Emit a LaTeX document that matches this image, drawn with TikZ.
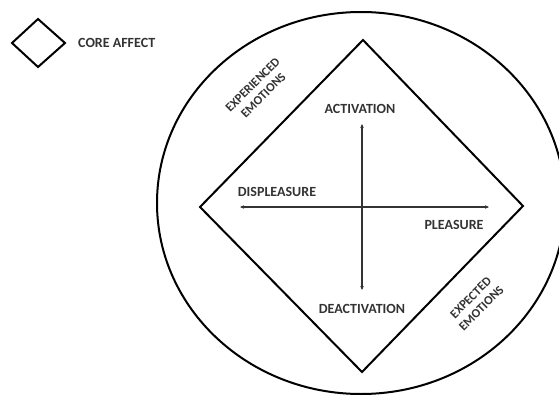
\documentclass[tikz,border=0pt]{standalone}
\usepackage{fontspec}
\setmainfont{Carlito}
\usetikzlibrary{arrows.meta,shapes.geometric}
\definecolor{txt}{HTML}{333333}
\tikzset{
  lbl/.style={font=\bfseries\fontsize{14}{15}\selectfont, text=txt, inner sep=0pt},
  rlbl/.style={font=\bfseries\fontsize{12.5}{15}\selectfont, text=txt, inner sep=0pt, align=center, rotate=45},
  shapeline/.style={draw=black, line width=2pt, line join=miter},
  axis/.style={draw=black!80, line width=1.1pt, {Stealth[length=4pt,width=3.5pt]}-{Stealth[length=4pt,width=3.5pt]}}
}
\begin{document}
\begin{tikzpicture}[x=1pt,y=-1pt]
\useasboundingbox (0,0) rectangle (559,396);
\clip (0,0) rectangle (559,396);
% legend
\coordinate (l1) at (12,43);
\coordinate (l2) at (38,19);
\coordinate (l3) at (65,43);
\coordinate (l4) at (38,67);
\draw[shapeline] (l1) -- (l2) -- (l3) -- (l4) -- cycle;
\node[lbl, anchor=west] (legend) at (78,43) {CORE AFFECT};
% outer circle
\node[draw=black, line width=2pt, ellipse, minimum width=408pt, minimum height=382pt, inner sep=0pt] (circ) at (361,203) {};
% main diamond
\coordinate (dl) at (200,207);
\coordinate (dt) at (363,40);
\coordinate (dr) at (523,206);
\coordinate (db) at (362,372);
\draw[shapeline] (dl) -- (dt) -- (dr) -- (db) -- cycle;
% axes
\coordinate (ax1) at (240,207);
\coordinate (ax2) at (489,207);
\coordinate (ay1) at (362,124);
\coordinate (ay2) at (362,290);
\draw[axis] (ax1) -- (ax2);
\draw[axis] (ay1) -- (ay2);
% labels
\node[lbl] (act) at (360,109) {ACTIVATION};
\node[lbl] (deact) at (362,309) {DEACTIVATION};
\node[lbl] (displ) at (277,192) {DISPLEASURE};
\node[lbl] (pleas) at (454,225) {PLEASURE};
\node[rlbl] (exper) at (258,90) {EXPERIENCED\\EMOTIONS};
\node[rlbl] (expect) at (476,303) {EXPECTED\\EMOTIONS};
\end{tikzpicture}
\end{document}
